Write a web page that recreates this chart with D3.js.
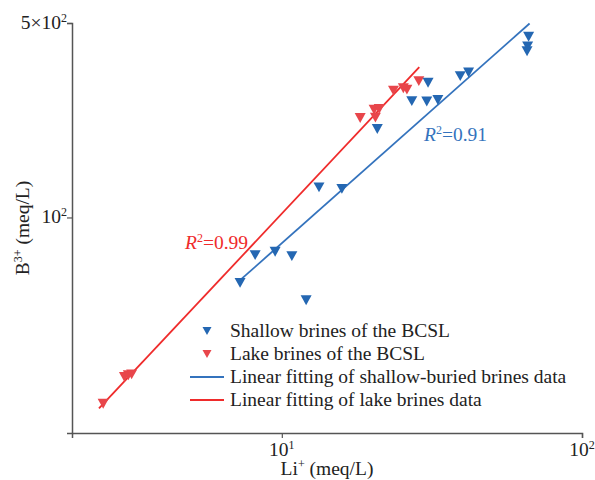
<!DOCTYPE html>
<html>
<head>
<meta charset="utf-8">
<script src="https://cdn.jsdelivr.net/npm/d3@7"></script>
<style>
  body { margin: 0; background: #fff; }
  text { font-family: "Liberation Serif", "Times New Roman", serif; }
</style>
</head>
<body>
<div id="chart"></div>
<script>
// Li+ and B3+ (meq/L)
const shallowLi = [66.4, 65.9, 65.6, 41.9, 39.3, 30.7, 27.1, 30.4, 33.1, 20.8, 13.3, 15.85, 8.15, 9.5, 10.8, 7.26, 12.05];
const shallowB  = [446, 412, 396, 332, 322, 305, 262, 261, 264.5, 208, 128.3, 126.7, 73.2, 75.3, 72.6, 58.2, 50.4];

const lakeLi = [18.24, 20.5, 20.3, 21.1, 23.55, 25.4, 26.1, 28.6, 2.54, 2.99, 3.08, 3.16];
const lakeB  = [227.8, 228.4, 244, 245.4, 285.7, 291.2, 288.1, 309.1, 21.4, 26.7, 27.1, 27.3];

// fitted lines, end points (Li, B)
const shallowFit = [[7.26, 59.5], [66.9, 498]];
const lakeFit = [[2.46, 20.6], [28.7, 346.7]];

const xTicks = [10, 100];
const yTicks = [100, 500];
const legendLabels = [
  "Shallow brines of the BCSL",
  "Lake brines of the BCSL",
  "Linear fitting of shallow-buried brines data",
  "Linear fitting of lake brines data"
];

const blue = "#2467b2";
const blueLine = "#3473bd";
const red = "#e8464b";
const redLine = "#ef2b2b";
const axisColor = "#555";
const fs = "19.5px", sup = "12px";

const width = 595, height = 480;
const svg = d3.select("#chart").append("svg")
    .attr("width", width)
    .attr("height", height);

const x = d3.scaleLog().domain([2, 100]).range([72, 582]);
const y = d3.scaleLog().domain([16.8, 500]).range([433, 23]);

// axes
const xAxis = svg.append("g")
    .attr("transform", "translate(0," + y.range()[0] + ")")
    .call(d3.axisBottom(x).tickValues(xTicks).tickSize(5).tickFormat(""));
const yAxis = svg.append("g")
    .attr("transform", "translate(" + x.range()[0] + ",0)")
    .call(d3.axisLeft(y).tickValues(yTicks).tickSize(5).tickFormat(""));
[xAxis, yAxis].forEach(g => {
    g.select(".domain").attr("stroke", axisColor).attr("stroke-width", 1.5);
    g.selectAll(".tick line").attr("stroke", axisColor).attr("stroke-width", 1.2);
});

// tick labels with superscripts
function powLabel(sel, v) {
    const e = Math.floor(Math.log10(v) + 1e-9);
    const m = Math.round(v / Math.pow(10, e));
    sel.append("tspan").text((m === 1 ? "" : m + "×") + "10");
    sel.append("tspan").attr("dy", -7).style("font-size", sup).text(e);
}
xTicks.forEach(v => {
    const t = svg.append("text")
        .attr("x", x(v))
        .attr("y", 456)
        .attr("text-anchor", "middle")
        .style("font-size", fs)
        .attr("fill", "#222");
    powLabel(t, v);
});
yTicks.forEach(v => {
    const t = svg.append("text")
        .attr("x", 67)
        .attr("y", y(v) + 6)
        .attr("text-anchor", "end")
        .style("font-size", fs)
        .attr("fill", "#222");
    powLabel(t, v);
});

// axis titles
const xt = svg.append("text")
    .attr("x", (x.range()[0] + x.range()[1]) / 2)
    .attr("y", 475)
    .attr("text-anchor", "middle")
    .style("font-size", fs)
    .attr("fill", "#222");
xt.append("tspan").text("Li");
xt.append("tspan").attr("dy", -7).style("font-size", sup).text("+");
xt.append("tspan").attr("dy", 7).text(" (meq/L)");

const yt = svg.append("text")
    .attr("transform", "translate(29," + (y.range()[0] + y.range()[1]) / 2 + ") rotate(-90)")
    .attr("text-anchor", "middle")
    .style("font-size", fs)
    .attr("fill", "#222");
yt.append("tspan").text("B");
yt.append("tspan").attr("dy", -7).style("font-size", sup).text("3+");
yt.append("tspan").attr("dy", 7).text(" (meq/L)");

// fit lines
const line = d3.line().x(d => x(d[0])).y(d => y(d[1]));
svg.append("path").datum(lakeFit).attr("d", line)
    .attr("fill", "none").attr("stroke", redLine).attr("stroke-width", 1.8);
svg.append("path").datum(shallowFit).attr("d", line)
    .attr("fill", "none").attr("stroke", blueLine).attr("stroke-width", 1.8);

// down-pointing triangles
function tri(w) {
    const h = w * 0.9;
    return "M" + (-w / 2) + "," + (-h / 2) + "L" + (w / 2) + "," + (-h / 2) + "L0," + (h / 2) + "Z";
}

svg.append("g").selectAll("path")
    .data(d3.zip(lakeLi, lakeB))
    .enter().append("path")
    .attr("d", tri(11))
    .attr("transform", d => "translate(" + x(d[0]) + "," + y(d[1]) + ")")
    .attr("fill", red);

svg.append("g").selectAll("path")
    .data(d3.zip(shallowLi, shallowB))
    .enter().append("path")
    .attr("d", tri(11))
    .attr("transform", d => "translate(" + x(d[0]) + "," + y(d[1]) + ")")
    .attr("fill", blue);

// R2 labels
function r2(xp, yp, val, col) {
    const t = svg.append("text")
        .attr("x", xp).attr("y", yp)
        .style("font-size", fs)
        .attr("fill", col);
    t.append("tspan").style("font-style", "italic").text("R");
    t.append("tspan").attr("dy", -7).style("font-size", sup).text("2");
    t.append("tspan").attr("dy", 7).text("=" + val);
}
r2(424, 141, "0.91", blueLine);
r2(185, 249, "0.99", redLine);

// legend
const legend = svg.append("g").attr("transform", "translate(207,331)");
legendLabels.forEach((lab, i) => {
    const ly = i * 23;
    if (i < 2) {
        legend.append("path")
            .attr("d", tri(9))
            .attr("transform", "translate(0," + ly + ")")
            .attr("fill", i === 0 ? blue : red);
    } else {
        legend.append("line")
            .attr("x1", -17).attr("x2", 17)
            .attr("y1", ly).attr("y2", ly)
            .attr("stroke", i === 2 ? blueLine : redLine)
            .attr("stroke-width", 1.8);
    }
    legend.append("text")
        .attr("x", 23)
        .attr("y", ly + 6)
        .style("font-size", fs)
        .attr("fill", "#222")
        .text(lab);
});
</script>
</body>
</html>
